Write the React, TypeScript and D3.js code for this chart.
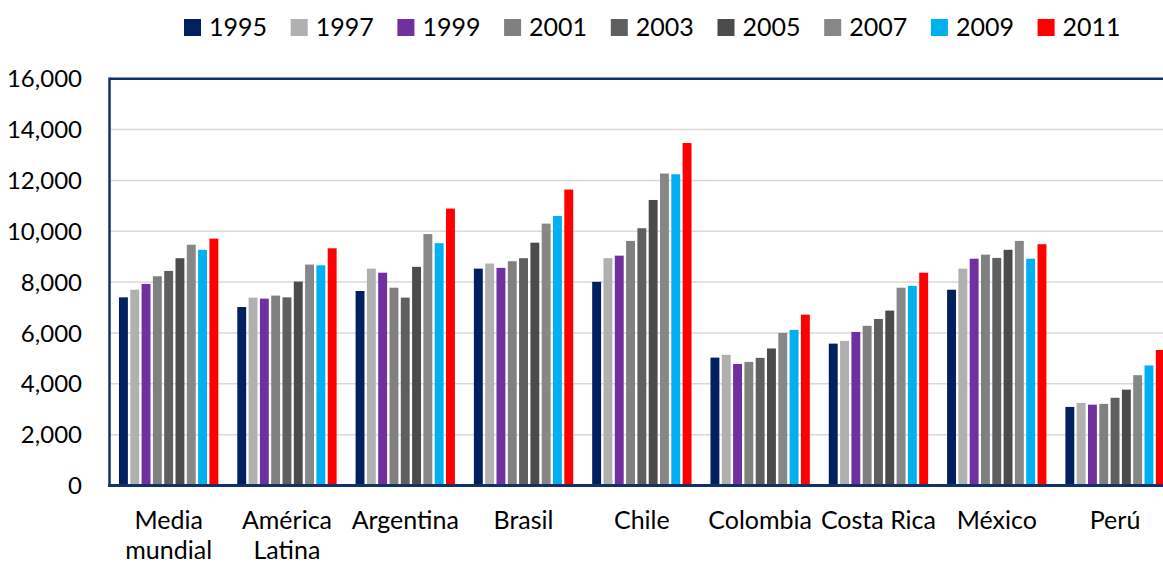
import React from "react";
import * as d3 from "d3";

const categories = [
  "Media mundial",
  "América Latina",
  "Argentina",
  "Brasil",
  "Chile",
  "Colombia",
  "Costa Rica",
  "México",
  "Perú",
];

const years = ["1995", "1997", "1999", "2001", "2003", "2005", "2007", "2009", "2011"];

const colors = ["#002060", "#b0b0b0", "#7030a0", "#808080", "#5f5f5f", "#4b4b4b", "#878787", "#00b0f0", "#ff0000"];

// values[category][year]
const mediaMundial = [7400, 7700, 7930, 8230, 8440, 8940, 9470, 9270, 9710];
const americaLatina = [7020, 7390, 7350, 7470, 7400, 8020, 8690, 8660, 9330];
const argentina = [7650, 8530, 8370, 7780, 7390, 8600, 9890, 9530, 10890];
const brasil = [8530, 8730, 8560, 8820, 8940, 9550, 10300, 10600, 11640];
const chile = [8010, 8940, 9040, 9620, 10120, 11230, 12270, 12240, 13470];
const colombia = [5030, 5140, 4780, 4860, 5020, 5390, 6000, 6120, 6720];
const costaRica = [5580, 5690, 6040, 6280, 6550, 6880, 7780, 7850, 8370];
const mexico = [7700, 8530, 8920, 9080, 8950, 9270, 9620, 8920, 9490];
const peru = [3090, 3250, 3180, 3210, 3450, 3770, 4340, 4720, 5330];

const seriesByCategory = [mediaMundial, americaLatina, argentina, brasil, chile, colombia, costaRica, mexico, peru];

const yTicks = [0, 2000, 4000, 6000, 8000, 10000, 12000, 14000, 16000];

const FONT = "Lato, 'Open Sans', sans-serif";
const FS = 25;

function wrapLabel(text: string, maxWidth: number): string[] {
  let ctx: CanvasRenderingContext2D | null = null;
  try {
    ctx = document.createElement("canvas").getContext("2d");
  } catch (e) {
    ctx = null;
  }
  const measure = (s: string) => {
    if (ctx) {
      ctx.font = `${FS}px Lato`;
      return ctx.measureText(s).width;
    }
    return s.length * FS * 0.5;
  };
  const words = text.split(" ");
  const lines: string[] = [];
  let cur = "";
  for (const w of words) {
    const t = cur ? cur + " " + w : w;
    if (cur && measure(t) > maxWidth) {
      lines.push(cur);
      cur = w;
    } else {
      cur = t;
    }
  }
  if (cur) lines.push(cur);
  return lines;
}

export default function App() {
  const W = 1163;
  const H = 563;
  const plotLeft = 109.5;
  const plotTop = 78.7;
  const plotBottom = 485.5;
  const step = 118.3;
  const plotRight = plotLeft + step * categories.length;

  const x0 = d3
    .scaleBand<string>()
    .domain(categories)
    .range([plotLeft, plotRight])
    .paddingInner(0.14)
    .paddingOuter(0.07);
  const x1 = d3.scaleBand<string>().domain(years).range([0, x0.bandwidth()]);
  const y = d3.scaleLinear().domain([0, 16000]).range([plotBottom, plotTop]);
  const fmt = d3.format(",");

  const navy = "#13306b";
  const inset = 1.2;

  return (
    <svg
      width={W}
      height={H}
      style={{ position: "absolute", left: 0, top: 0, background: "#fff" }}
      fontFamily={FONT}
    >
      {/* gridlines */}
      {yTicks.map((t) => (
        <line
          key={"g" + t}
          x1={plotLeft}
          x2={plotRight}
          y1={y(t)}
          y2={y(t)}
          stroke="#d9d9d9"
          strokeWidth={1.5}
        />
      ))}
      {/* bars */}
      {categories.map((c, ci) => (
        <g key={c} transform={`translate(${x0(c)},0)`}>
          {years.map((yr, yi) => {
            const v = seriesByCategory[ci][yi];
            return (
              <rect
                key={yr}
                x={(x1(yr) as number) + inset}
                y={y(v)}
                width={x1.bandwidth() - 2 * inset}
                height={y(0) - y(v)}
                fill={colors[yi]}
              />
            );
          })}
        </g>
      ))}
      {/* frame */}
      <line x1={plotLeft} x2={plotRight} y1={plotTop} y2={plotTop} stroke={navy} strokeWidth={2.5} />
      <line x1={plotLeft} x2={plotLeft} y1={plotTop - 1.25} y2={plotBottom + 1.5} stroke={navy} strokeWidth={2.5} />
      <line x1={plotLeft - 1.25} x2={plotRight} y1={plotBottom} y2={plotBottom} stroke={navy} strokeWidth={3} />
      {/* y tick labels */}
      {yTicks.map((t) => (
        <text
          key={"t" + t}
          x={82}
          y={y(t)}
          dy="0.36em"
          textAnchor="end"
          fontSize={24}
          fill="#000"
        >
          {fmt(t)}
        </text>
      ))}
      {/* category labels */}
      {categories.map((c) => {
        const lines = wrapLabel(c, 118);
        const cx = (x0(c) as number) + x0.bandwidth() / 2;
        return (
          <text key={"c" + c} x={cx} y={529} textAnchor="middle" fontSize={FS} fill="#000">
            {lines.map((l, i) => (
              <tspan key={i} x={cx} dy={i === 0 ? 0 : 29.5}>
                {l}
              </tspan>
            ))}
          </text>
        );
      })}
      {/* legend */}
      {years.map((yr, i) => {
        const lx = 184 + i * 106.7;
        return (
          <g key={"l" + yr}>
            <rect x={lx} y={19} width={17} height={17} fill={colors[i]} />
            <text x={lx + 25} y={35.7} fontSize={FS} fill="#000">
              {yr}
            </text>
          </g>
        );
      })}
    </svg>
  );
}
